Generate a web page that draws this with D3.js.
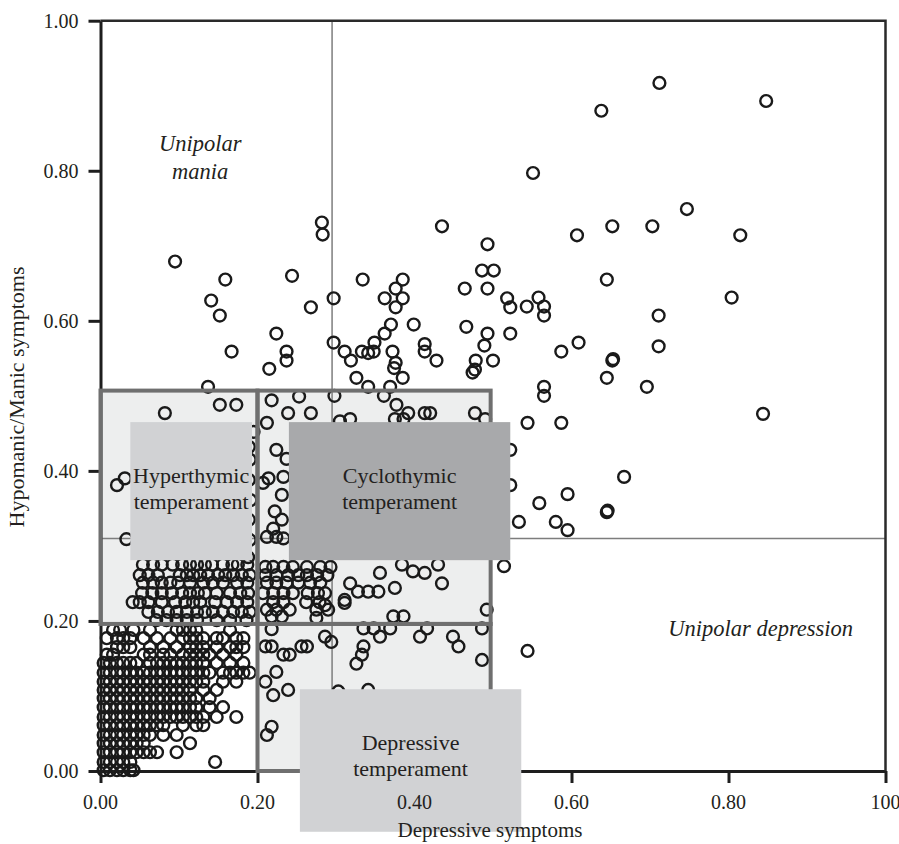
<!DOCTYPE html>
<html>
<head>
<meta charset="utf-8">
<script src="https://cdn.jsdelivr.net/npm/d3@7"></script>
<style>
  html, body { margin: 0; padding: 0; background: #fff; }
  svg text { font-family: "Liberation Serif", "Times New Roman", serif; fill: #231f20; }
</style>
</head>
<body>
<svg id="chart" width="899" height="844"></svg>
<script>
// Axis ticks
const tickValues = [0, 0.2, 0.4, 0.6, 0.8, 1];
const xTickLabels = ["0.00", "0.20", "0.40", "0.60", "0.80", "100"];
const yTickLabels = ["0.00", "0.20", "0.40", "0.60", "0.80", "1.00"];

// Cut-off lines for symptoms and temperament cells
const symptomCutX = 0.295;
const symptomCutY = 0.31;
const tempCutX = [0, 0.2, 0.497];
const tempCutY = [0, 0.196, 0.507];

// Scattered patients outside the dense core (depressive, manic)
const outerPoints = [
  [0.712,0.917],[0.638,0.880],[0.848,0.893],[0.551,0.797],[0.747,0.749],[0.607,0.714],
  [0.652,0.726],[0.703,0.726],[0.815,0.714],[0.645,0.655],[0.804,0.631],[0.558,0.631],
  [0.543,0.619],[0.565,0.619],[0.565,0.607],[0.711,0.607],[0.609,0.571],[0.587,0.559],
  [0.711,0.566],[0.652,0.547],[0.653,0.549],[0.645,0.524],[0.696,0.512],[0.565,0.512],
  [0.565,0.500],[0.544,0.464],[0.587,0.464],[0.844,0.476],
  [0.522,0.428],[0.667,0.392],[0.522,0.381],[0.595,0.369],[0.559,0.357],[0.645,0.345],
  [0.646,0.347],[0.533,0.332],[0.580,0.332],[0.595,0.321],[0.514,0.273],[0.544,0.160],
  [0.282,0.731],[0.283,0.715],[0.435,0.726],[0.493,0.702],[0.486,0.667],[0.501,0.667],
  [0.244,0.660],[0.334,0.655],[0.385,0.655],[0.464,0.643],[0.493,0.643],[0.376,0.643],
  [0.362,0.630],[0.385,0.630],[0.297,0.630],[0.376,0.618],[0.518,0.630],[0.522,0.618],
  [0.268,0.618],[0.399,0.595],[0.370,0.595],[0.362,0.583],[0.466,0.592],[0.493,0.583],
  [0.522,0.583],[0.489,0.567],[0.500,0.547],[0.478,0.547],[0.474,0.531],[0.477,0.535],
  [0.297,0.571],[0.311,0.559],[0.319,0.547],[0.333,0.559],[0.341,0.557],[0.349,0.571],
  [0.348,0.559],[0.372,0.559],[0.376,0.544],[0.374,0.537],[0.385,0.524],[0.413,0.569],
  [0.413,0.559],[0.428,0.547],[0.326,0.524],[0.341,0.512],[0.369,0.512],
  [0.095,0.679],[0.159,0.655],[0.141,0.627],[0.152,0.607],[0.224,0.583],[0.237,0.559],
  [0.237,0.547],[0.167,0.559],[0.215,0.536],[0.137,0.512]
];

// Hyperthymic cell
const hyperPoints = [
  [0.152,0.488],[0.173,0.488],[0.082,0.477],[0.021,0.381],[0.031,0.390],[0.033,0.309],
  [0.195,0.452],[0.189,0.432],[0.190,0.415],[0.189,0.388],[0.191,0.361],[0.189,0.335],
  [0.190,0.308],[0.188,0.285]
];
const hyperRows = [
  [0.275, [0.054,0.067,0.078,0.092,0.104,0.114,0.123,0.133,0.142,0.156,0.168,0.175,0.187]],
  [0.261, [0.050,0.061,0.073,0.101,0.110,0.118,0.127,0.137,0.150,0.159,0.169,0.180,0.190]],
  [0.251, [0.054,0.067,0.078,0.089,0.099,0.114,0.131,0.143,0.156,0.174,0.187]],
  [0.237, [0.053,0.066,0.078,0.091,0.104,0.114,0.124,0.133,0.148,0.165,0.178,0.188]],
  [0.225, [0.041,0.050,0.061,0.078,0.095,0.108,0.118,0.127,0.146,0.161,0.174,0.187]],
  [0.212, [0.061,0.073,0.086,0.097,0.110,0.123,0.133,0.143,0.156,0.169,0.180,0.190]],
  [0.201, [0.071,0.084,0.097,0.110,0.123,0.148,0.165,0.186]]
];

// Cyclothymic cell
const cycloPoints = [
  [0.218,0.494],[0.253,0.499],[0.298,0.500],[0.239,0.477],[0.268,0.477],[0.212,0.464],
  [0.361,0.500],[0.377,0.488],[0.392,0.477],[0.413,0.477],[0.420,0.477],[0.477,0.477],
  [0.305,0.466],[0.318,0.469],[0.375,0.469],[0.386,0.469],[0.490,0.469],
  [0.224,0.428],[0.237,0.416],[0.214,0.390],[0.233,0.392],[0.207,0.384],[0.231,0.368],
  [0.222,0.346],[0.231,0.335],[0.220,0.323],[0.212,0.312],[0.224,0.312],[0.233,0.310],
  [0.384,0.275],[0.398,0.266],[0.413,0.264],[0.430,0.275],[0.435,0.250],[0.356,0.264],
  [0.318,0.250],[0.328,0.239],[0.341,0.239],[0.354,0.239],[0.375,0.244],[0.311,0.228],
  [0.373,0.206],[0.386,0.206],[0.492,0.215],
  [0.218,0.206],[0.231,0.206],[0.275,0.204],[0.286,0.221],[0.311,0.224]
];
const cycloRows = [
  [0.272, [0.210,0.220,0.233,0.245,0.263,0.280,0.293]],
  [0.261, [0.210,0.224,0.239,0.252,0.263,0.276,0.289]],
  [0.251, [0.212,0.224,0.237,0.252,0.267,0.280]],
  [0.237, [0.207,0.220,0.233,0.245,0.264,0.277,0.286]],
  [0.225, [0.220,0.233,0.262,0.279]],
  [0.215, [0.212,0.224,0.241,0.275,0.290]]
];

// Depressive cell
const depPoints = [
  [0.218,0.189],[0.210,0.166],[0.218,0.166],[0.233,0.155],[0.241,0.155],[0.256,0.166],
  [0.263,0.166],[0.286,0.179],[0.294,0.172],[0.335,0.190],[0.348,0.190],[0.356,0.179],
  [0.369,0.190],[0.407,0.179],[0.416,0.190],[0.449,0.179],[0.456,0.166],[0.486,0.190],
  [0.486,0.148],[0.335,0.166],[0.333,0.155],[0.326,0.143],[0.224,0.132],[0.210,0.119],
  [0.220,0.101],[0.239,0.108],[0.341,0.108],[0.303,0.106],[0.218,0.059],[0.212,0.048]
];

// Low-symptom core (manic level, depressive levels)
const coreRows = [
  [0.188, [0.016,0.025,0.042,0.063,0.097,0.105,0.114,0.122,0.165]],
  [0.177, [0.008,0.021,0.029,0.038,0.055,0.072,0.089,0.105,0.114,0.122,0.131,0.148,0.156,0.173,0.182]],
  [0.165, [0.021,0.029,0.038,0.063,0.080,0.097,0.114,0.122,0.131,0.148,0.165,0.173,0.182]],
  [0.155, [0.008,0.016,0.055,0.063,0.080,0.089,0.105,0.114,0.122,0.131,0.139,0.156,0.173]],
  [0.144, [0.004,0.012,0.021,0.029,0.038,0.046,0.063,0.072,0.080,0.089,0.097,0.105,0.114,0.122,0.131,0.148,0.165,0.182]],
  [0.131, [0.004,0.012,0.021,0.029,0.038,0.046,0.055,0.063,0.072,0.080,0.089,0.097,0.105,0.114,0.122,0.131,0.139,0.156,0.165,0.173,0.182,0.190]],
  [0.119, [0.004,0.012,0.021,0.029,0.038,0.046,0.055,0.063,0.072,0.080,0.089,0.097,0.105,0.114,0.122,0.131,0.156,0.173]],
  [0.108, [0.004,0.012,0.021,0.029,0.038,0.046,0.055,0.063,0.072,0.080,0.089,0.097,0.105,0.114,0.131,0.148]],
  [0.097, [0.004,0.012,0.021,0.029,0.038,0.046,0.055,0.063,0.072,0.080,0.089,0.097,0.105,0.114,0.122,0.139]],
  [0.085, [0.004,0.012,0.021,0.029,0.038,0.046,0.055,0.063,0.072,0.080,0.089,0.097,0.105,0.114,0.122,0.139,0.156]],
  [0.072, [0.004,0.012,0.021,0.029,0.038,0.046,0.055,0.063,0.072,0.080,0.089,0.097,0.105,0.114,0.122,0.131,0.148,0.173]],
  [0.061, [0.004,0.012,0.021,0.029,0.038,0.046,0.055,0.063,0.072,0.080,0.105,0.122,0.131]],
  [0.048, [0.004,0.012,0.021,0.029,0.038,0.046,0.055,0.063,0.080,0.097]],
  [0.037, [0.004,0.012,0.021,0.029,0.038,0.046,0.055,0.114]],
  [0.025, [0.004,0.012,0.021,0.029,0.038,0.046,0.055,0.063,0.072,0.097]],
  [0.012, [0.004,0.012,0.021,0.029,0.038,0.146]],
  [0.001, [0.004,0.012,0.021,0.029,0.038,0.042]]
];

// Region annotations
const quadrantLabels = [
  { lines: ["Unipolar", "mania"], x: 0.127, y: 0.827 },
  { lines: ["Unipolar depression"], x: 0.841, y: 0.180 }
];
const temperamentBoxes = [
  { lines: ["Hyperthymic", "temperament"], x0: 0.038, x1: 0.193, y0: 0.281, y1: 0.465, fill: "#d1d2d4" },
  { lines: ["Cyclothymic", "temperament"], x0: 0.240, x1: 0.522, y0: 0.281, y1: 0.465, fill: "#a8a9ab" },
  { lines: ["Depressive", "temperament"], x0: 0.254, x1: 0.536, y0: -0.081, y1: 0.109, fill: "#d1d2d4" }
];

const svg = d3.select("#chart");
const x = d3.scaleLinear().domain([0, 1]).range([100.5, 885.5]);
const y = d3.scaleLinear().domain([0, 1]).range([771, 20.7]);

const rowsToPoints = rows => rows.flatMap(([yy, xs]) => xs.map(xx => [xx, yy]));
const allPoints = [
  ...outerPoints, ...hyperPoints, ...rowsToPoints(hyperRows),
  ...cycloPoints, ...rowsToPoints(cycloRows), ...depPoints, ...rowsToPoints(coreRows)
];

// Temperament cells (light fill)
const cells = [
  [tempCutX[0], tempCutX[1], tempCutY[1], tempCutY[2]],
  [tempCutX[1], tempCutX[2], tempCutY[1], tempCutY[2]],
  [tempCutX[1], tempCutX[2], tempCutY[0], tempCutY[1]]
];
svg.append("g").selectAll("rect").data(cells).join("rect")
  .attr("x", d => x(d[0])).attr("width", d => x(d[1]) - x(d[0]))
  .attr("y", d => y(d[3])).attr("height", d => y(d[2]) - y(d[3]))
  .attr("fill", "#edeeee");

// Symptom cut-off lines
svg.append("line")
  .attr("x1", x(symptomCutX)).attr("x2", x(symptomCutX))
  .attr("y1", y(1)).attr("y2", y(0))
  .attr("stroke", "#7d7d7d").attr("stroke-width", 1.5);
svg.append("line")
  .attr("x1", x(0)).attr("x2", x(1))
  .attr("y1", y(symptomCutY)).attr("y2", y(symptomCutY))
  .attr("stroke", "#7d7d7d").attr("stroke-width", 1.5);

// Axes and frame
const yAxis = d3.axisLeft(y).tickValues(tickValues).tickSize(12).tickSizeOuter(0).tickFormat("");
const xAxis = d3.axisBottom(x).tickValues(tickValues).tickSize(12).tickSizeOuter(0).tickFormat("");
const gy = svg.append("g").attr("transform", `translate(${x(0)},0)`).call(yAxis);
const gx = svg.append("g").attr("transform", `translate(0,${y(0)})`).call(xAxis);
[gx, gy].forEach(g => {
  g.select(".domain").attr("stroke", "#1e1e1e").attr("stroke-width", 3);
  g.selectAll(".tick line").attr("stroke", "#1e1e1e").attr("stroke-width", 3);
});
svg.append("path")
  .attr("d", `M${x(0)},${y(1)}H${x(1)}V${y(0)}`)
  .attr("fill", "none").attr("stroke", "#2a2a2a").attr("stroke-width", 2.5);

// Patients
svg.append("g").selectAll("circle").data(allPoints).join("circle")
  .attr("cx", d => x(d[0])).attr("cy", d => y(d[1])).attr("r", 5.9)
  .attr("fill", "none").attr("stroke", "#1a1a1a").attr("stroke-width", 2.4);

// Temperament cell borders
svg.append("g").selectAll("rect").data(cells).join("rect")
  .attr("x", d => x(d[0])).attr("width", d => x(d[1]) - x(d[0]))
  .attr("y", d => y(d[3])).attr("height", d => y(d[2]) - y(d[3]))
  .attr("fill", "none").attr("stroke", "#6f6f6f").attr("stroke-width", 4);

// Temperament label boxes
const tb = svg.append("g").selectAll("g").data(temperamentBoxes).join("g");
tb.append("rect")
  .attr("x", d => x(d.x0)).attr("width", d => x(d.x1) - x(d.x0))
  .attr("y", d => y(d.y1)).attr("height", d => y(d.y0) - y(d.y1))
  .attr("fill", d => d.fill);
tb.append("text")
  .attr("text-anchor", "middle").attr("font-size", 22)
  .attr("transform", d => `translate(${(x(d.x0) + x(d.x1)) / 2},${y(d.y1) + 61})`)
  .selectAll("tspan").data(d => d.lines).join("tspan")
  .attr("x", 0).attr("y", (d, i) => i * 26).text(d => d);

// Tick labels
const ty = svg.append("g").attr("font-size", 20).attr("text-anchor", "end");
ty.selectAll("text").data(tickValues).join("text")
  .attr("x", x(0) - 22).attr("y", d => y(d)).attr("dy", "0.34em")
  .text((d, i) => yTickLabels[i]);
const tx = svg.append("g").attr("font-size", 20).attr("text-anchor", "middle");
tx.selectAll("text").data(tickValues).join("text")
  .attr("x", d => x(d)).attr("y", y(0) + 38)
  .text((d, i) => xTickLabels[i]);

// Axis titles
svg.append("text").attr("x", 490).attr("y", 837).attr("text-anchor", "middle")
  .attr("font-size", 21).text("Depressive symptoms");
svg.append("text").attr("text-anchor", "middle").attr("font-size", 22)
  .attr("transform", "translate(24,397) rotate(-90)").text("Hypomanic/Manic symptoms");

// Quadrant labels
const ql = svg.append("g").selectAll("text").data(quadrantLabels).join("text")
  .attr("text-anchor", "middle").attr("font-size", 22.5).attr("font-style", "italic")
  .attr("transform", d => `translate(${x(d.x)},${y(d.y)})`);
ql.selectAll("tspan").data(d => d.lines).join("tspan")
  .attr("x", 0).attr("y", (d, i) => i * 28).text(d => d);
</script>
</body>
</html>
